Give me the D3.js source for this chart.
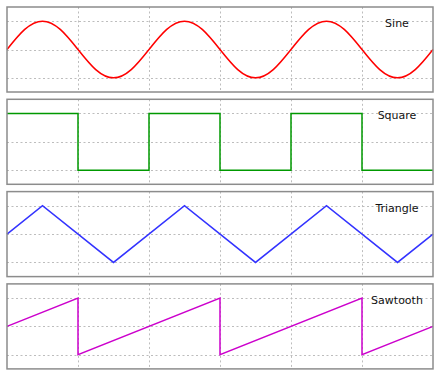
<!DOCTYPE html>
<html>
<head>
<meta charset="utf-8">
<script src="https://cdn.jsdelivr.net/npm/d3@7"></script>
<style>
  body { margin: 0; background: #fff; }
  svg { display: block; }
  .frame { fill: none; stroke: #8c8c8c; stroke-width: 1.5; }
  .grid line { stroke: #bdbdbd; stroke-width: 1; stroke-dasharray: 2,2.5; }
  .wave { fill: none; stroke-width: 1.5; }
  .label { font-family: "DejaVu Sans", sans-serif; font-size: 11px; fill: #111; }
</style>
</head>
<body>
<svg id="chart"></svg>
<script>
// Four waveforms, period 2, x from 0 to 6

var width = 440,
    height = 377;

var names = ["Sine", "Square", "Triangle", "Sawtooth"];
var colors = ["#ff0000", "#009900", "#3333ff", "#cc00cc"];

var xTicks = [0, 1, 2, 3, 4, 5, 6];
var yTicks = [-1, 0, 1];

// sine read at quarter steps
var sineX = [0,0.25,0.5,0.75,1,1.25,1.5,1.75,2,2.25,2.5,2.75,3,3.25,3.5,3.75,4,4.25,4.5,4.75,5,5.25,5.5,5.75,6];
var sineY = [0,0.71,1,0.71,0,-0.71,-1,-0.71,0,0.71,1,0.71,0,-0.71,-1,-0.71,0,0.71,1,0.71,0,-0.71,-1,-0.71,0];

var squareX = [0,1,1,2,2,3,3,4,4,5,5,6];
var squareY = [1,1,-1,-1,1,1,-1,-1,1,1,-1,-1];

var triangleX = [0,0.5,1.5,2.5,3.5,4.5,5.5,6];
var triangleY = [0,1,-1,1,-1,1,-1,0];

var sawX = [0,1,1,3,3,5,5,6];
var sawY = [0,1,-1,1,-1,1,-1,0];

var series = [
  { x: sineX, y: sineY, curve: d3.curveNatural },
  { x: squareX, y: squareY, curve: d3.curveLinear },
  { x: triangleX, y: triangleY, curve: d3.curveLinear },
  { x: sawX, y: sawY, curve: d3.curveLinear }
];

var left = 7, right = 433,
    top0 = 7, panelH = 85, step = 92.3;

var svg = d3.select("#chart")
    .attr("width", width)
    .attr("height", height);

var x = d3.scaleLinear().domain([0, 6]).range([left, right]);

series.forEach(function(s, i) {
  var t = top0 + i * step;
  var y = d3.scaleLinear().domain([-1.5, 1.5]).range([t + panelH, t]);
  var g = svg.append("g");

  var grid = g.append("g").attr("class", "grid");
  grid.selectAll(".vx")
      .data(xTicks.slice(1, -1))
    .enter().append("line")
      .attr("x1", function(d) { return Math.round(x(d)) + 0.5; })
      .attr("x2", function(d) { return Math.round(x(d)) + 0.5; })
      .attr("y1", t)
      .attr("y2", t + panelH);
  grid.selectAll(".hy")
      .data(yTicks)
    .enter().append("line")
      .attr("x1", left)
      .attr("x2", right)
      .attr("y1", function(d) { return Math.round(y(d)) + 0.5; })
      .attr("y2", function(d) { return Math.round(y(d)) + 0.5; });

  var pts = s.x.map(function(v, k) { return [v, s.y[k]]; });
  var line = d3.line()
      .x(function(d) { return x(d[0]); })
      .y(function(d) { return y(d[1]); })
      .curve(s.curve);

  g.append("path")
      .attr("class", "wave")
      .attr("stroke", colors[i])
      .attr("d", line(pts));

  g.append("rect")
      .attr("class", "frame")
      .attr("x", left)
      .attr("y", t)
      .attr("width", right - left)
      .attr("height", panelH);

  g.append("text")
      .attr("class", "label")
      .attr("x", 397)
      .attr("y", t + 20)
      .attr("text-anchor", "middle")
      .text(names[i]);
});
</script>
</body>
</html>
